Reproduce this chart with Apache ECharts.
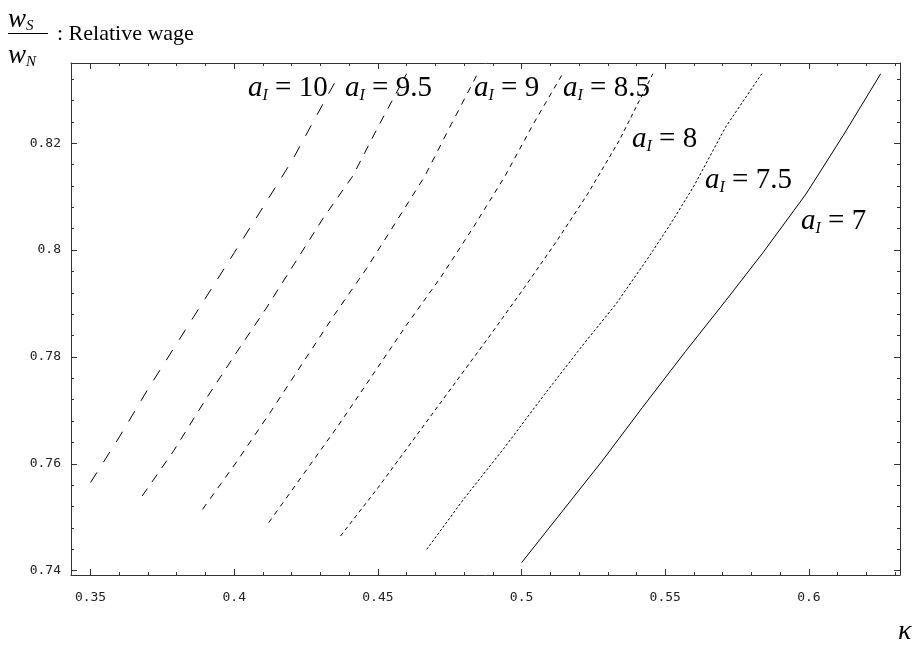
<!DOCTYPE html>
<html>
<head>
<meta charset="utf-8">
<script src="https://cdn.jsdelivr.net/npm/echarts@6/dist/echarts.min.js"></script>
<style>
  html, body { margin: 0; padding: 0; background: #fff; }
  #chart { width: 919px; height: 646px; }
</style>
</head>
<body>
<div id="chart"></div>
<script>
// Relative wage w_S / w_N against kappa, one contour per value of a_I

// axis ranges
const kappaRange = [0.3432, 0.6317];
const wageRange = [0.7392, 0.8350];

// tick positions
const kappaMajorTicks = [0.35, 0.4, 0.45, 0.5, 0.55, 0.6];
const kappaMinorTicks = [0.35, 0.36, 0.37, 0.38, 0.39, 0.4, 0.41, 0.42, 0.43, 0.44, 0.45, 0.46, 0.47, 0.48, 0.49,
  0.5, 0.51, 0.52, 0.53, 0.54, 0.55, 0.56, 0.57, 0.58, 0.59, 0.6, 0.61, 0.62, 0.63];
const wageMajorTicks = [0.74, 0.76, 0.78, 0.8, 0.82];
const wageMinorTicks = [0.74, 0.744, 0.748, 0.752, 0.756, 0.76, 0.764, 0.768, 0.772, 0.776, 0.78, 0.784, 0.788,
  0.792, 0.796, 0.8, 0.804, 0.808, 0.812, 0.816, 0.82, 0.824, 0.828, 0.832];

// contour levels (a_I)
const levels = ['10', '9.5', '9', '8.5', '8', '7.5', '7'];

// kappa / wage pairs along each contour
const kappa10 = [0.350, 0.360, 0.370, 0.380, 0.390, 0.400, 0.410, 0.4203, 0.4285, 0.4367];
const wage10  = [0.7565, 0.765, 0.774, 0.7825, 0.791, 0.7995, 0.808, 0.8169, 0.825, 0.833];

const kappa95 = [0.368, 0.379, 0.390, 0.401, 0.411, 0.421, 0.431, 0.4412, 0.4505, 0.460];
const wage95  = [0.754, 0.7625, 0.772, 0.781, 0.789, 0.7975, 0.806, 0.8138, 0.8235, 0.833];

const kappa9 = [0.389, 0.401, 0.413, 0.424, 0.435, 0.446, 0.456, 0.4663, 0.4755, 0.4847];
const wage9  = [0.7515, 0.7605, 0.770, 0.779, 0.788, 0.7965, 0.805, 0.8138, 0.8235, 0.833];

const kappa85 = [0.412, 0.424, 0.436, 0.448, 0.460, 0.472, 0.4835, 0.4942, 0.504, 0.5143];
const wage85  = [0.749, 0.758, 0.767, 0.7765, 0.786, 0.795, 0.8045, 0.8138, 0.8235, 0.833];

const kappa8 = [0.437, 0.450, 0.463, 0.476, 0.489, 0.501, 0.512, 0.523, 0.534, 0.5457];
const wage8  = [0.7465, 0.7555, 0.765, 0.7745, 0.784, 0.793, 0.8015, 0.8105, 0.8205, 0.833];

const kappa75 = [0.467, 0.480, 0.494, 0.508, 0.521, 0.533, 0.544, 0.552, 0.560, 0.571, 0.5836];
const wage75  = [0.744, 0.7535, 0.763, 0.773, 0.782, 0.790, 0.7985, 0.805, 0.812, 0.823, 0.833];

const kappa7 = [0.500, 0.514, 0.528, 0.542, 0.557, 0.571, 0.584, 0.599, 0.612, 0.625];
const wage7  = [0.7415, 0.751, 0.7605, 0.7705, 0.781, 0.7905, 0.7995, 0.8105, 0.8215, 0.833];

const curveKappa = [kappa10, kappa95, kappa9, kappa85, kappa8, kappa75, kappa7];
const curveWage = [wage10, wage95, wage9, wage85, wage8, wage75, wage7];

// dash pattern per contour, solid for the last one
const dashPatterns = [[12, 12], [9, 8], [6.5, 6.5], [5, 5], [4, 3.5], [2.5, 2], 'solid'];

// label placement for each contour (pixels)
const labelPos = [[248, 88], [345, 88], [474, 88], [563, 88], [632, 139], [705, 180], [801, 221]];

const serif = '"Liberation Serif", "Times New Roman", serif';
const mono = '"DejaVu Sans Mono", monospace';
const axisColor = '#333';

function zip(xs, ys) {
  return xs.map((x, i) => [x, ys[i]]);
}

const series = levels.map((lv, i) => ({
  name: 'a_I = ' + lv,
  type: 'line',
  xAxisIndex: 0,
  yAxisIndex: 0,
  data: zip(curveKappa[i], curveWage[i]),
  showSymbol: false,
  symbol: 'none',
  smooth: false,
  silent: true,
  lineStyle: { color: '#000', width: 1, type: dashPatterns[i] },
  z: 3
}));

function xAxisDef(position, ticks, len, withLabel, withLine) {
  return {
    type: 'value',
    position: position,
    min: kappaRange[0],
    max: kappaRange[1],
    axisLine: { show: withLine, onZero: false, lineStyle: { color: axisColor, width: 1 } },
    axisTick: { show: true, inside: true, length: len, customValues: ticks, lineStyle: { color: axisColor, width: 1 } },
    axisLabel: withLabel ? {
      show: true, customValues: kappaMajorTicks, margin: 16,
      fontFamily: mono, fontSize: 13, color: '#222'
    } : { show: false },
    splitLine: { show: false }
  };
}

function yAxisDef(position, ticks, len, withLabel, withLine) {
  return {
    type: 'value',
    position: position,
    min: wageRange[0],
    max: wageRange[1],
    axisLine: { show: withLine, onZero: false, lineStyle: { color: axisColor, width: 1 } },
    axisTick: { show: true, inside: true, length: len, customValues: ticks, lineStyle: { color: axisColor, width: 1 } },
    axisLabel: withLabel ? {
      show: true, customValues: wageMajorTicks, margin: 10,
      fontFamily: mono, fontSize: 13, color: '#222'
    } : { show: false },
    splitLine: { show: false }
  };
}

// contour labels: italic a with subscript I, then the level
const contourLabels = levels.map((lv, i) => ({
  type: 'text',
  x: labelPos[i][0],
  y: labelPos[i][1],
  z: 10,
  style: {
    text: '{a|a}{s|I}{t| = ' + lv + '}',
    align: 'left',
    verticalAlign: 'middle',
    rich: {
      a: { fontFamily: serif, fontStyle: 'italic', fontSize: 29, lineHeight: 32, fill: '#000' },
      s: { fontFamily: serif, fontStyle: 'italic', fontSize: 16, lineHeight: 12, verticalAlign: 'bottom', fill: '#000' },
      t: { fontFamily: serif, fontSize: 29, lineHeight: 32, fill: '#000' }
    }
  }
}));

const wRich = {
  w: { fontFamily: serif, fontStyle: 'italic', fontSize: 27, lineHeight: 28, fill: '#000' },
  s: { fontFamily: serif, fontStyle: 'italic', fontSize: 15, lineHeight: 10, verticalAlign: 'bottom', fill: '#000' }
};

const titleGraphics = [
  { type: 'text', x: 8, y: 20, style: { text: '{w|w}{s|S}', align: 'left', verticalAlign: 'middle', rich: wRich } },
  { type: 'line', shape: { x1: 8, y1: 33.5, x2: 48, y2: 33.5 }, style: { stroke: '#000', lineWidth: 1 } },
  { type: 'text', x: 8, y: 56, style: { text: '{w|w}{s|N}', align: 'left', verticalAlign: 'middle', rich: wRich } },
  { type: 'text', x: 57, y: 34, style: { text: ': Relative wage', align: 'left', verticalAlign: 'middle',
      fontFamily: serif, fontSize: 22, fill: '#000' } },
  { type: 'text', x: 898, y: 632, style: { text: 'κ', align: 'left', verticalAlign: 'middle',
      fontFamily: serif, fontStyle: 'italic', fontSize: 28, fill: '#000' } }
];

const chart = echarts.init(document.getElementById('chart'), null, { renderer: 'canvas' });
chart.setOption({
  animation: false,
  backgroundColor: '#fff',
  grid: { left: 71, top: 63, right: 19, bottom: 71, containLabel: false },
  // the grid assigns a repeated position to the opposite side, so the order
  // below gives major and minor ticks on both bottom and top
  xAxis: [
    xAxisDef('bottom', kappaMajorTicks, 6, true, true),
    xAxisDef('top', kappaMajorTicks, 6, false, true),
    xAxisDef('top', kappaMinorTicks, 3, false, false),
    xAxisDef('bottom', kappaMinorTicks, 3, false, false)
  ],
  yAxis: [
    yAxisDef('left', wageMajorTicks, 6, true, true),
    yAxisDef('right', wageMajorTicks, 6, false, true),
    yAxisDef('right', wageMinorTicks, 3, false, false),
    yAxisDef('left', wageMinorTicks, 3, false, false)
  ],
  series: series,
  graphic: titleGraphics.concat(contourLabels)
});
</script>
</body>
</html>
